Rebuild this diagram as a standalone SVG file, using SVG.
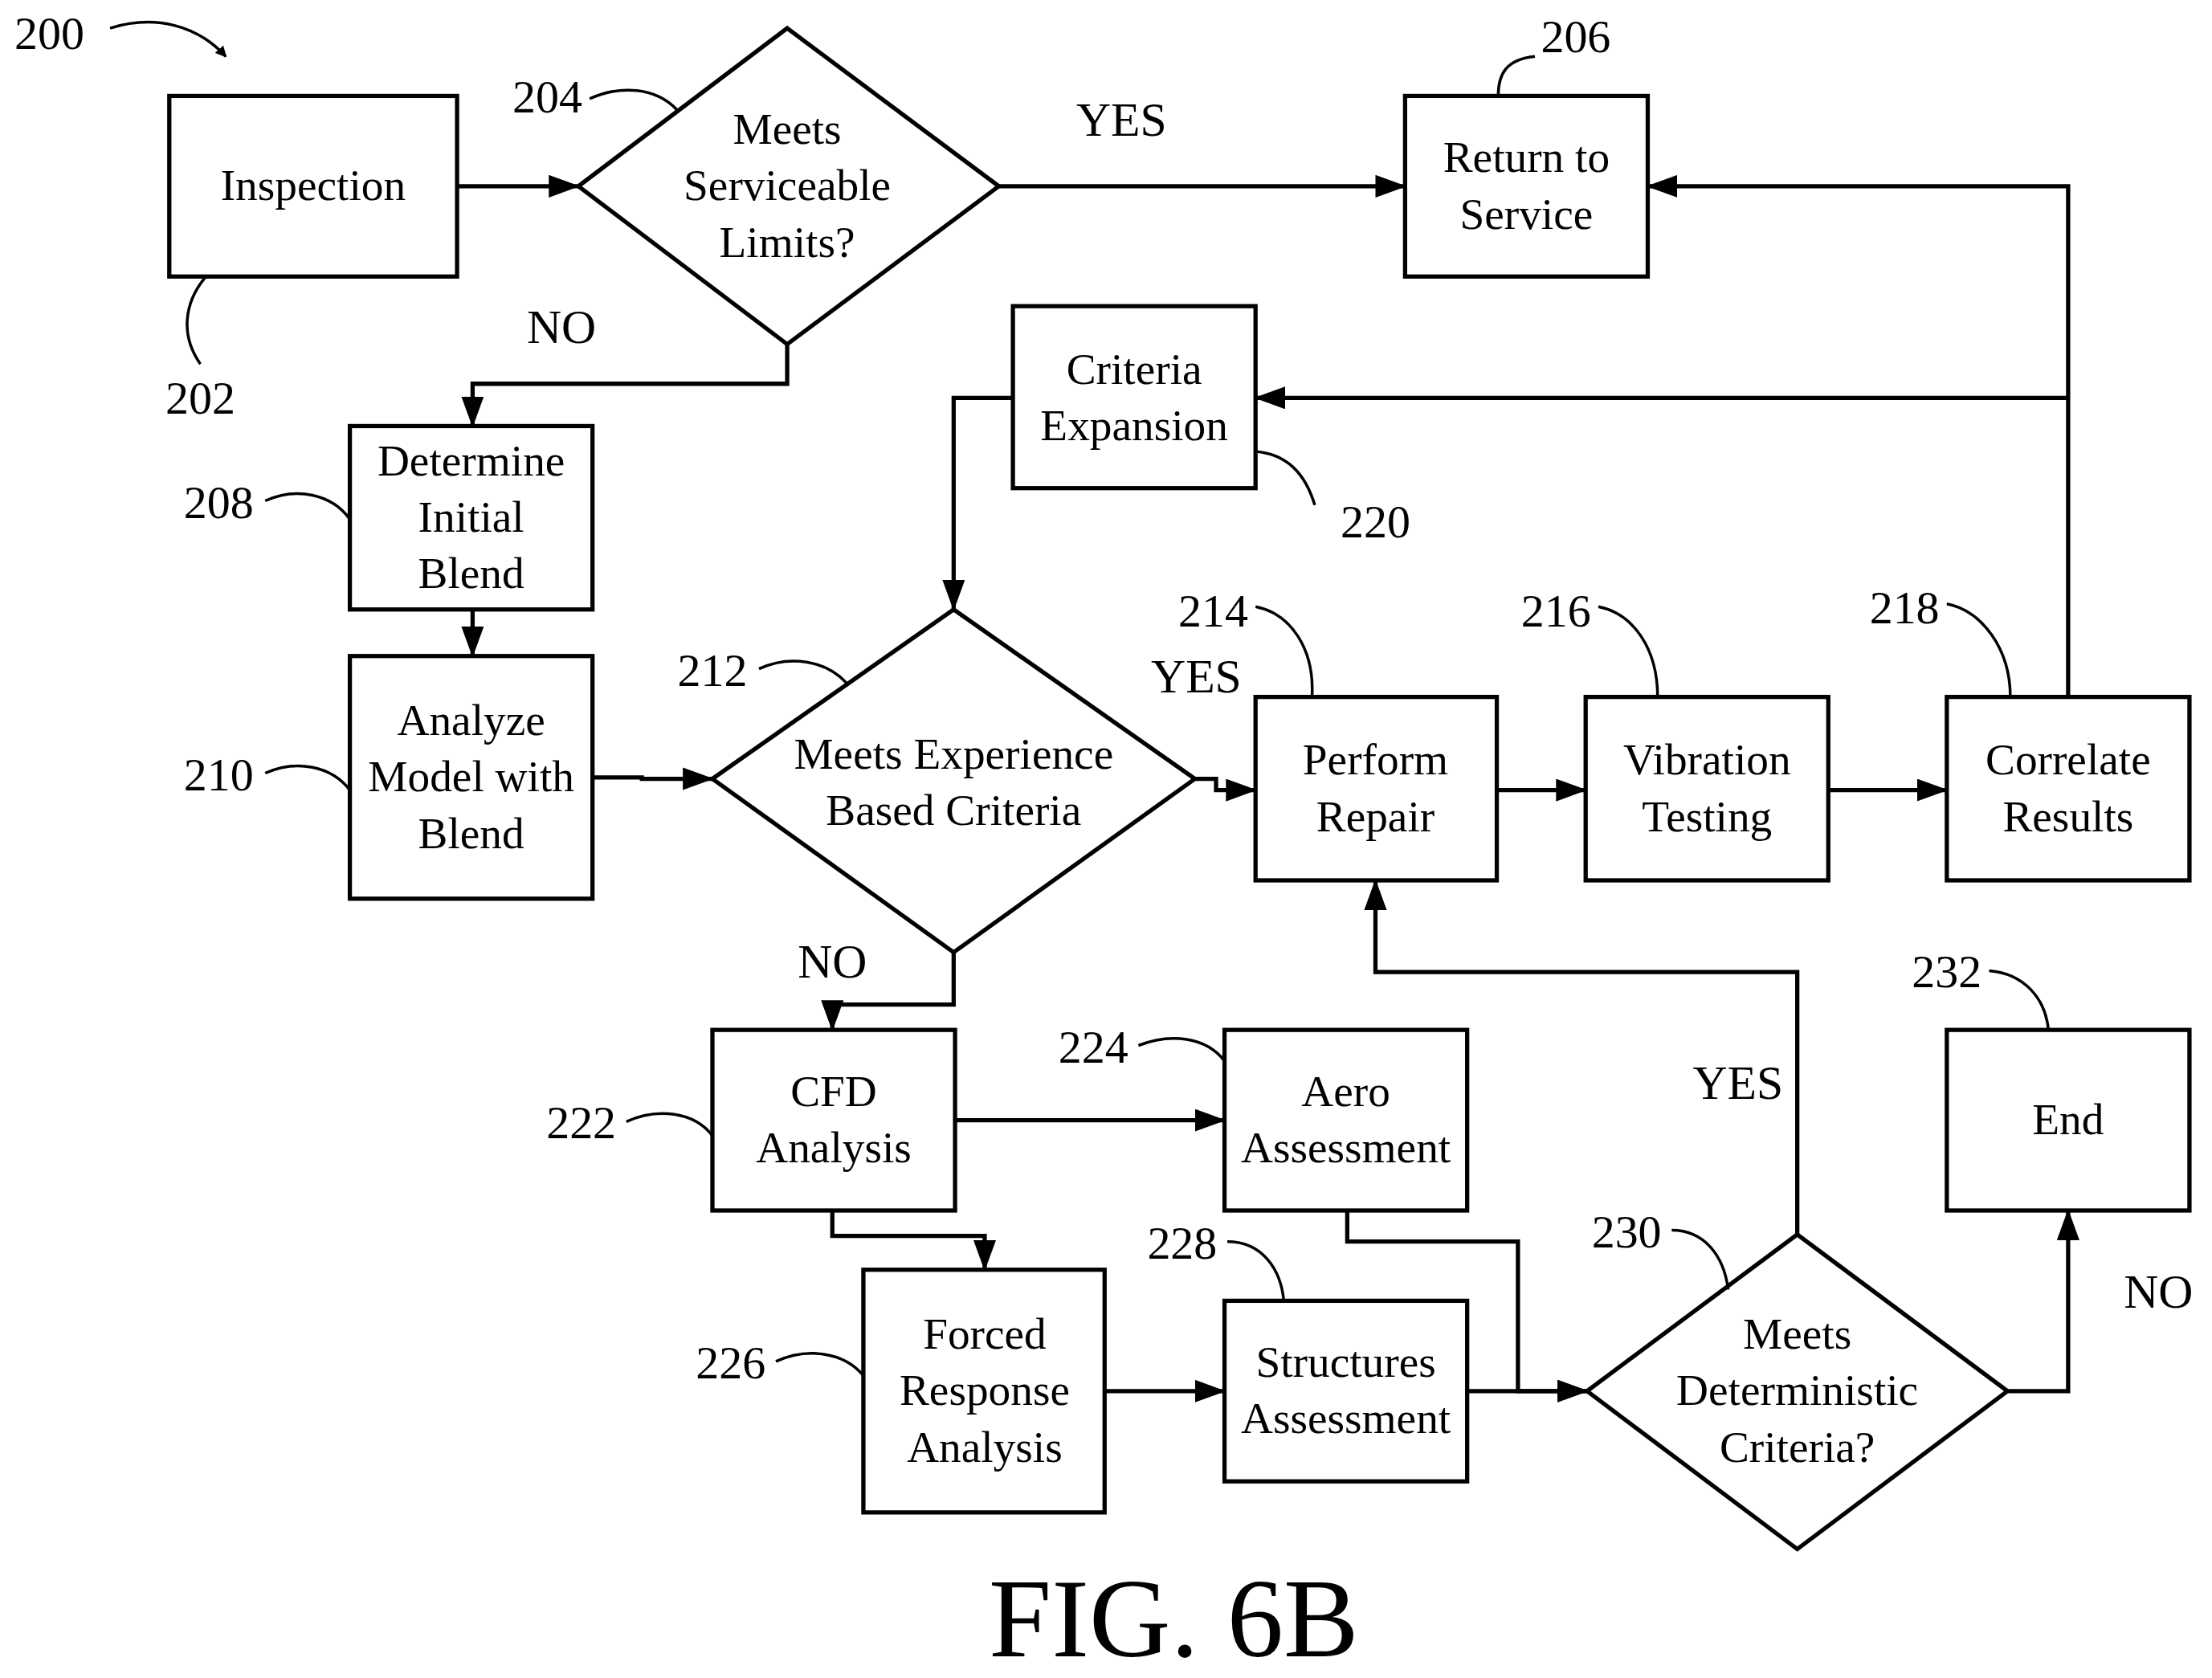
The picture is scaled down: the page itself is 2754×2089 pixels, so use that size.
<svg xmlns="http://www.w3.org/2000/svg" width="2754" height="2089" viewBox="0 0 2754 2089">
<defs>
<marker id="ah" markerWidth="8" markerHeight="8" refX="7" refY="4" orient="auto" markerUnits="userSpaceOnUse"><path d="M0,0 L8,4 L0,8 Z" fill="#000"/></marker>
<marker id="a" markerWidth="22" markerHeight="16" refX="21" refY="8" orient="auto" markerUnits="userSpaceOnUse"><path d="M0,0 L22,8 L0,16 Z" fill="#000"/></marker>
</defs>
<style>
.b{fill:#fff;stroke:#000;stroke-width:3}
.t{font-family:"Liberation Serif",serif;font-size:31.5px;text-anchor:middle;fill:#000}
.y{font-family:"Liberation Serif",serif;font-size:34px;text-anchor:middle;fill:#000}
.n{font-family:"Liberation Serif",serif;font-size:33px;text-anchor:middle;fill:#000}
.c{fill:none;stroke:#000;stroke-width:3}
.l{fill:none;stroke:#000;stroke-width:2}
</style>
<rect width="2754" height="2089" fill="#fff"/>
<g transform="scale(1.7564)">
<g id="connectors">
<path class="c" d="M324,132 H410" marker-end="url(#a)"/>
<path class="c" d="M708,132 H996" marker-end="url(#a)"/>
<path class="c" d="M558,244 V272 H335 V302" marker-end="url(#a)"/>
<path class="c" d="M335,432 V465" marker-end="url(#a)"/>
<path class="c" d="M420,551 H455 V552 H505" marker-end="url(#a)"/>
<path class="c" d="M847,552 H862 V560 H890" marker-end="url(#a)"/>
<path class="c" d="M1061,560 H1124" marker-end="url(#a)"/>
<path class="c" d="M1296,560 H1380" marker-end="url(#a)"/>
<path class="c" d="M1466,494 V132 H1168" marker-end="url(#a)"/>
<path class="c" d="M1466,282 H890" marker-end="url(#a)"/>
<path class="c" d="M718,282 H676 V432" marker-end="url(#a)"/>
<path class="c" d="M676,675 V712 H590 V730" marker-end="url(#a)"/>
<path class="c" d="M677,794 H868" marker-end="url(#a)"/>
<path class="c" d="M590,858 V876 H698 V900" marker-end="url(#a)"/>
<path class="c" d="M783,986 H868" marker-end="url(#a)"/>
<path class="c" d="M955,858 V880 H1076 V986 H1125" marker-end="url(#a)"/>
<path class="c" d="M1040,986 H1125" marker-end="url(#a)"/>
<path class="c" d="M1274,875 V689 H975 V624" marker-end="url(#a)"/>
<path class="c" d="M1423,986 H1466 V858" marker-end="url(#a)"/>
<text class="y" x="795" y="96">YES</text>
<text class="y" x="398" y="243">NO</text>
<text class="y" x="848" y="491">YES</text>
<text class="y" x="590" y="693">NO</text>
<text class="y" x="1232" y="779">YES</text>
<text class="y" x="1530" y="927">NO</text>
</g>
<g id="n202"><rect class="b" x="120" y="68" width="204" height="128"/><text class="t" x="222" y="142">Inspection</text></g>
<g id="n204"><path class="b" d="M558,20 L708,132 L558,244 L410,132 Z"/><text class="t" x="558" y="102">Meets</text><text class="t" x="558" y="142">Serviceable</text><text class="t" x="558" y="182">Limits?</text></g>
<g id="n206"><rect class="b" x="996" y="68" width="172" height="128"/><text class="t" x="1082" y="122">Return to</text><text class="t" x="1082" y="162">Service</text></g>
<g id="n208"><rect class="b" x="248" y="302" width="172" height="130"/><text class="t" x="334" y="337">Determine</text><text class="t" x="334" y="377">Initial</text><text class="t" x="334" y="417">Blend</text></g>
<g id="n210"><rect class="b" x="248" y="465" width="172" height="172"/><text class="t" x="334" y="521">Analyze</text><text class="t" x="334" y="561">Model with</text><text class="t" x="334" y="601">Blend</text></g>
<g id="n220"><rect class="b" x="718" y="217" width="172" height="129"/><text class="t" x="804" y="272">Criteria</text><text class="t" x="804" y="312">Expansion</text></g>
<g id="n212"><path class="b" d="M676,432 L847,552 L676,675 L505,552 Z"/><text class="t" x="676" y="545">Meets Experience</text><text class="t" x="676" y="585">Based Criteria</text></g>
<g id="n214"><rect class="b" x="890" y="494" width="171" height="130"/><text class="t" x="975" y="549">Perform</text><text class="t" x="975" y="589">Repair</text></g>
<g id="n216"><rect class="b" x="1124" y="494" width="172" height="130"/><text class="t" x="1210" y="549">Vibration</text><text class="t" x="1210" y="589">Testing</text></g>
<g id="n218"><rect class="b" x="1380" y="494" width="172" height="130"/><text class="t" x="1466" y="549">Correlate</text><text class="t" x="1466" y="589">Results</text></g>
<g id="n222"><rect class="b" x="505" y="730" width="172" height="128"/><text class="t" x="591" y="784">CFD</text><text class="t" x="591" y="824">Analysis</text></g>
<g id="n224"><rect class="b" x="868" y="730" width="172" height="128"/><text class="t" x="954" y="784">Aero</text><text class="t" x="954" y="824">Assessment</text></g>
<g id="n226"><rect class="b" x="612" y="900" width="171" height="172"/><text class="t" x="698" y="956">Forced</text><text class="t" x="698" y="996">Response</text><text class="t" x="698" y="1036">Analysis</text></g>
<g id="n228"><rect class="b" x="868" y="922" width="172" height="128"/><text class="t" x="954" y="976">Structures</text><text class="t" x="954" y="1016">Assessment</text></g>
<g id="n230"><path class="b" d="M1274,875 L1423,986 L1274,1098 L1125,986 Z"/><text class="t" x="1274" y="956">Meets</text><text class="t" x="1274" y="996">Deterministic</text><text class="t" x="1274" y="1036">Criteria?</text></g>
<g id="n232"><rect class="b" x="1380" y="730" width="172" height="128"/><text class="t" x="1466" y="804">End</text></g>
<g id="refs">
<text class="n" x="35" y="35">200</text><path class="l" d="M78,20 C110,10 140,18 160,40" marker-end="url(#ah)"/>
<text class="n" x="388" y="80">204</text><path class="l" d="M418,70 C440,60 465,62 480,78"/>
<text class="n" x="1117" y="37">206</text><path class="l" d="M1088,40 C1068,42 1062,52 1062,68"/>
<text class="n" x="142" y="293">202</text><path class="l" d="M146,196 C130,215 128,238 142,258"/>
<text class="n" x="155" y="367">208</text><path class="l" d="M188,355 C210,345 235,350 248,368"/>
<text class="n" x="975" y="381">220</text><path class="l" d="M890,320 C912,322 925,335 932,358"/>
<text class="n" x="155" y="560">210</text><path class="l" d="M188,548 C210,538 235,543 248,560"/>
<text class="n" x="505" y="486">212</text><path class="l" d="M538,474 C560,464 585,468 600,484"/>
<text class="n" x="860" y="444">214</text><path class="l" d="M890,430 C915,435 932,460 930,494"/>
<text class="n" x="1103" y="444">216</text><path class="l" d="M1133,430 C1158,435 1175,460 1175,494"/>
<text class="n" x="1350" y="442">218</text><path class="l" d="M1380,428 C1405,433 1425,460 1425,494"/>
<text class="n" x="412" y="807">222</text><path class="l" d="M444,795 C466,785 492,788 505,805"/>
<text class="n" x="775" y="753">224</text><path class="l" d="M807,741 C830,732 855,735 868,752"/>
<text class="n" x="518" y="977">226</text><path class="l" d="M550,965 C572,955 598,958 612,975"/>
<text class="n" x="838" y="892">228</text><path class="l" d="M870,880 C895,880 908,900 910,922"/>
<text class="n" x="1153" y="884">230</text><path class="l" d="M1185,872 C1208,872 1222,890 1225,914"/>
<text class="n" x="1380" y="700">232</text><path class="l" d="M1410,688 C1435,690 1450,708 1452,730"/>
</g>
<text x="832" y="1174" style="font-family:'Liberation Serif',serif;font-size:80px;text-anchor:middle">FIG. 6B</text>
</g>
</svg>
